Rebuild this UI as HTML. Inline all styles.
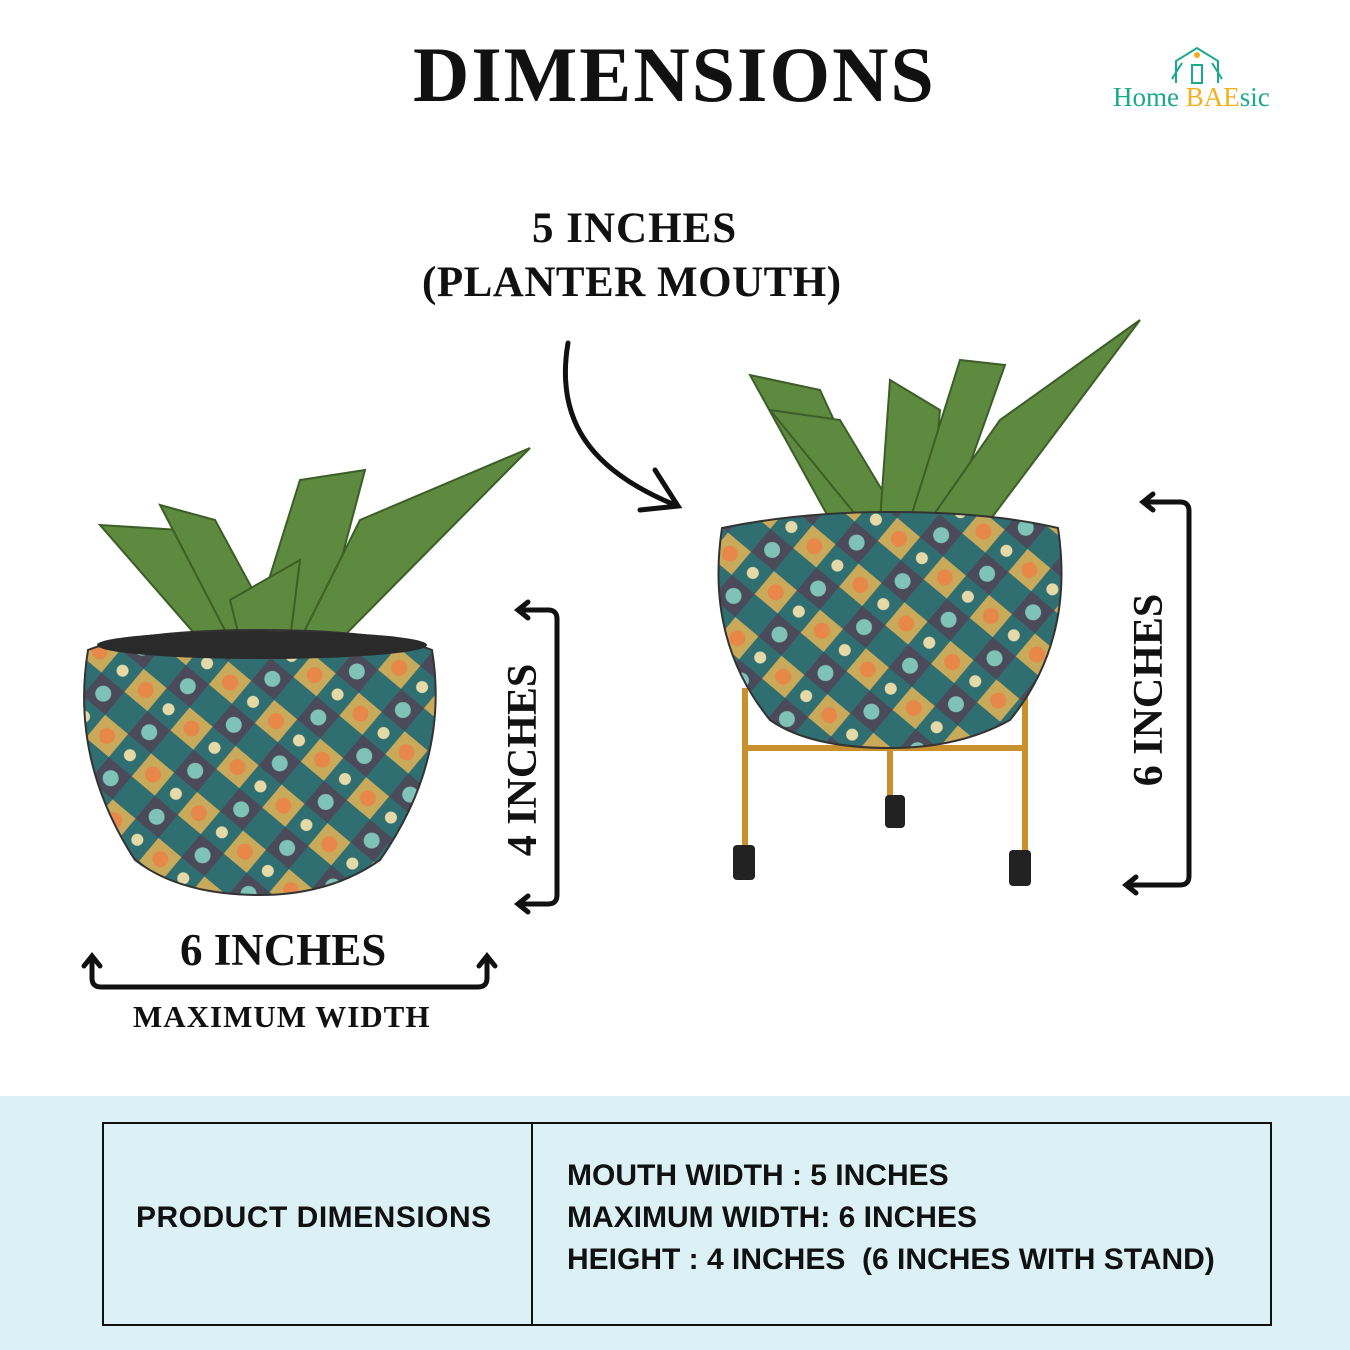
<!DOCTYPE html>
<html><head><meta charset="utf-8"><style>
body{margin:0;width:1350px;height:1350px;background:#fff;position:relative;overflow:hidden;font-family:"Liberation Serif",serif}
.t{position:absolute;white-space:nowrap;color:#111;font-weight:bold}
.s{font-family:"Liberation Sans",sans-serif;font-weight:bold;font-size:30px;color:#111;position:absolute;white-space:nowrap;letter-spacing:0px}
</style></head><body>
<div class="t" style="left:413px;top:30px;font-size:78px;letter-spacing:2px">DIMENSIONS</div>
<div style="position:absolute;left:1113px;top:82px;font-size:27px;font-family:'Liberation Serif',serif;color:#1aa98a">Home <span style="color:#f2b01e">BAE</span>sic</div>
<svg style="position:absolute;left:1170px;top:45px" width="54" height="42"><path d="M6 38 V16 L27 3 L48 16 V38" fill="none" stroke="#1aa98a" stroke-width="2"/><circle cx="27" cy="10" r="3" fill="#f2b01e"/><rect x="22" y="20" width="10" height="18" fill="none" stroke="#1aa98a" stroke-width="2"/><path d="M2 34 q6-10 10-16 M52 34 q-6-10-10-16" stroke="#1aa98a" stroke-width="2" fill="none"/></svg>
<div class="t" style="left:532px;top:204px;font-size:43px;letter-spacing:1px">5 INCHES</div>
<div class="t" style="left:422px;top:258px;font-size:43px;letter-spacing:0.5px">(PLANTER MOUTH)</div>
<div class="t" style="left:180px;top:924px;font-size:45px">6 INCHES</div>
<div class="t" style="left:133px;top:999px;font-size:31px;letter-spacing:1px">MAXIMUM WIDTH</div>
<div class="t" style="left:523px;top:760px;font-size:42px;transform:translate(-50%,-50%) rotate(-90deg);transform-origin:center">4 INCHES</div>
<div class="t" style="left:1149px;top:690px;font-size:42px;transform:translate(-50%,-50%) rotate(-90deg);transform-origin:center">6 INCHES</div>
<svg style="position:absolute;left:0;top:0" width="1350" height="1100">
<g fill="none" stroke="#111" stroke-width="5" stroke-linecap="round">
<path d="M568 343 C555 420 590 470 675 505"/><path d="M655 470 L678 506 L640 510"/>
<path d="M520 610 H548 q9 0 9 9 V895 q0 9-9 9 H520"/><path d="M528 602 L518 610 L528 618 M528 896 L518 904 L528 912"/>
<path d="M1145 502 H1180 q9 0 9 9 V876 q0 9-9 9 H1128"/><path d="M1153 494 L1143 502 L1153 510 M1136 877 L1126 885 L1136 893"/>
<path d="M92 962 V978 q0 9 9 9 H478 q9 0 9-9 V962"/><path d="M84 966 L92 956 L100 966 M479 966 L487 956 L495 966"/>
</g>
<g fill="#5d8a3e" stroke="#3d5e28" stroke-width="2">
<path d="M200 640 L100 525 L180 530 L260 640Z"/><path d="M230 640 L160 505 L215 520 L280 640Z"/><path d="M250 640 L300 480 L365 470 L320 640Z"/><path d="M300 640 L360 520 L530 448 L340 640Z"/><path d="M240 640 L230 600 L300 560 L290 640Z"/>
</g>
<defs><pattern id="p" width="60" height="60" patternUnits="userSpaceOnUse" patternTransform="rotate(40)"><rect width="60" height="60" fill="#2f6f72"/><rect width="30" height="30" fill="#c9a95a"/><rect x="30" y="30" width="30" height="30" fill="#4b4a5a"/><circle cx="15" cy="15" r="8" fill="#e8874a"/><circle cx="45" cy="45" r="8" fill="#7fc2b8"/><circle cx="45" cy="15" r="6" fill="#e6d9a8"/></pattern></defs>
<path d="M88 650 Q140 630 260 630 Q380 630 432 650 Q450 760 380 860 Q330 895 260 895 Q180 895 135 860 Q70 760 88 650Z" fill="url(#p)" stroke="#333" stroke-width="2"/>
<ellipse cx="262" cy="645" rx="165" ry="14" fill="#2a2a2a"/>
<g stroke="#c8902e" stroke-width="6" fill="none"><path d="M745 688 V855 M1025 688 V860 M748 748 H1022 M890 700 V800"/></g>
<rect x="733" y="845" width="22" height="35" rx="4" fill="#222"/><rect x="1009" y="850" width="22" height="36" rx="4" fill="#222"/><rect x="885" y="795" width="20" height="33" rx="4" fill="#222"/>
<g fill="#5d8a3e" stroke="#3d5e28" stroke-width="2">
<path d="M830 520 L750 375 L820 390 L880 520Z"/><path d="M860 520 L770 410 L840 420 L900 520Z"/><path d="M880 520 L890 380 L940 410 L930 520Z"/><path d="M910 520 L960 360 L1005 365 L950 520Z"/><path d="M930 520 L1000 420 L1140 320 L990 520Z"/>
</g>
<path d="M722 528 Q800 512 890 512 Q990 512 1058 528 Q1075 640 1010 720 Q960 748 890 748 Q810 748 770 720 Q705 640 722 528Z" fill="url(#p)" stroke="#333" stroke-width="2"/>
</svg>
<div style="position:absolute;left:0;top:1096px;width:1350px;height:254px;background:#dcf1f5"></div>
<div style="position:absolute;left:102px;top:1122px;width:1166px;height:200px;border:2px solid #111"></div>
<div style="position:absolute;left:531px;top:1122px;width:2px;height:202px;background:#111"></div>
<div class="s" style="left:136px;top:1201px;letter-spacing:0.5px">PRODUCT DIMENSIONS</div>
<div class="s" style="left:567px;top:1159px">MOUTH WIDTH : 5 INCHES</div>
<div class="s" style="left:567px;top:1201px">MAXIMUM WIDTH: 6 INCHES</div>
<div class="s" style="left:567px;top:1243px">HEIGHT : 4 INCHES &nbsp;(6 INCHES WITH STAND)</div>
</body></html>
